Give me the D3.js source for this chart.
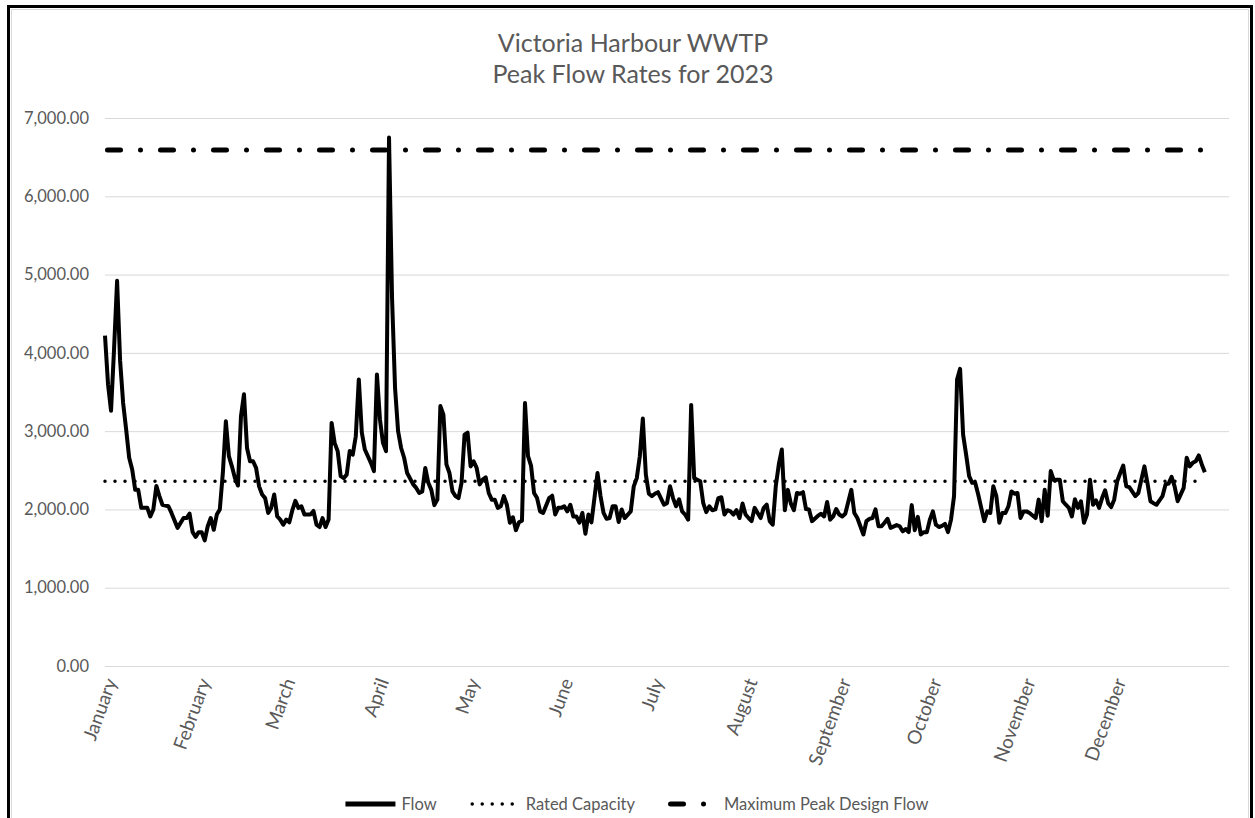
<!DOCTYPE html>
<html>
<head>
<meta charset="utf-8">
<title>Victoria Harbour WWTP - Peak Flow Rates for 2023</title>
<script src="https://cdn.jsdelivr.net/npm/d3@7"></script>
<style>
	body { margin: 0; background: #ffffff; }
	text { font-family: Lato, "Open Sans", sans-serif; fill: #595959; }
</style>
</head>
<body>
<div id="graph-graph"></div>
<script>
// DATA: DAY OF YEAR (0 = JANUARY 1ST) AND PEAK FLOW
var flowDay = [
	0, 1, 2, 3, 4, 5, 6, 7, 8, 9, 10, 11, 12, 14, 15, 16, 17, 18, 19, 21,
	22, 24, 26, 27, 28, 29, 30, 31, 32, 33, 34, 35, 36, 37, 38, 39, 40, 41, 42, 43,
	44, 45, 46, 47, 48, 49, 50, 51, 52, 53, 54, 55, 56, 57, 58, 59, 60, 61, 62, 63,
	64, 65, 66, 68, 69, 70, 71, 72, 73, 74, 75, 76, 77, 78, 79, 80, 81, 82, 83, 84,
	85, 86, 88, 89, 90, 91, 92, 93, 94, 95, 96, 97, 98, 99, 100, 102, 103, 104, 105, 106,
	107, 108, 109, 110, 111, 112, 113, 114, 115, 116, 117, 118, 119, 120, 121, 122, 123, 124, 125, 126,
	127, 128, 129, 130, 131, 132, 133, 134, 135, 136, 137, 138, 139, 140, 141, 142, 143, 144, 145, 147,
	148, 149, 150, 151, 152, 153, 154, 155, 156, 157, 158, 159, 160, 161, 163, 164, 165, 166, 167, 168,
	169, 170, 171, 172, 174, 175, 176, 177, 178, 179, 180, 181, 182, 183, 185, 186, 187, 188, 189, 190,
	191, 192, 193, 194, 195, 196, 197, 198, 199, 200, 201, 202, 203, 204, 205, 206, 207, 208, 209, 210,
	211, 212, 213, 214, 215, 216, 217, 218, 219, 220, 221, 222, 223, 224, 225, 226, 227, 228, 229, 230,
	231, 232, 233, 234, 236, 237, 238, 239, 240, 241, 242, 243, 244, 245, 247, 248, 249, 251, 252, 253,
	254, 255, 256, 257, 258, 259, 260, 262, 263, 264, 265, 266, 267, 268, 269, 270, 271, 272, 273, 274,
	275, 276, 277, 278, 279, 280, 281, 282, 283, 284, 285, 286, 287, 288, 289, 290, 291, 292, 293, 294,
	295, 296, 297, 298, 299, 300, 301, 302, 303, 304, 305, 306, 308, 309, 310, 311, 312, 313, 314, 315,
	316, 317, 318, 319, 320, 321, 322, 323, 324, 325, 326, 327, 328, 329, 330, 331, 332, 333, 334, 335,
	336, 337, 338, 339, 341, 342, 343, 344, 345, 346, 347, 348, 349, 350, 351, 352, 353, 354, 355, 356,
	357, 358, 359, 360, 361, 362, 363, 364
];
var flowValue = [
	4220, 3600, 3260, 4050, 4920, 3900, 3360, 3020, 2660, 2510, 2250, 2250, 2020, 2020, 1910, 2000, 2300, 2170, 2060, 2040,
	1955, 1765, 1890, 1890, 1945, 1710, 1650, 1710, 1710, 1605, 1785, 1890, 1740, 1935, 2000, 2465, 3125, 2680, 2550, 2400,
	2305, 3190, 3470, 2785, 2615, 2615, 2530, 2295, 2190, 2145, 1955, 2020, 2190, 1910, 1870, 1805, 1870, 1835, 1990, 2110,
	2020, 2040, 1935, 1935, 1980, 1805, 1775, 1890, 1775, 1870, 3105, 2850, 2745, 2425, 2400, 2445, 2745, 2700, 2935, 3660,
	2980, 2765, 2595, 2490, 3725, 3150, 2850, 2745, 6750, 4700, 3550, 3000, 2785, 2660, 2465, 2320, 2275, 2210, 2230, 2530,
	2340, 2250, 2055, 2125, 3320, 3210, 2575, 2465, 2230, 2170, 2145, 2340, 2955, 2980, 2550, 2615, 2530, 2320, 2380, 2410,
	2210, 2125, 2125, 2020, 2040, 2170, 2060, 1830, 1900, 1735, 1835, 1855, 3360, 2680, 2560, 2210, 2145, 1975, 1955, 2145,
	2175, 1935, 2020, 2020, 2040, 1975, 2060, 1910, 1910, 1830, 1955, 1690, 1935, 1835, 2465, 2170, 1955, 1880, 1890, 2040,
	2040, 1840, 2000, 1890, 1975, 2295, 2400, 2680, 3160, 2445, 2200, 2170, 2200, 2220, 2060, 2080, 2295, 2145, 2040, 2130,
	1975, 1935, 1870, 3335, 2400, 2380, 2360, 2080, 1965, 2040, 1990, 2000, 2145, 2155, 1935, 1990, 1975, 1935, 1990, 1890,
	2075, 1935, 1890, 1850, 2020, 1955, 1890, 2020, 2060, 1850, 1805, 2295, 2575, 2765, 1990, 2250, 2075, 1990, 2210, 2200,
	2220, 2005, 2000, 1850, 1920, 1945, 1910, 2095, 1870, 1910, 2005, 1935, 1910, 1945, 2250, 1955, 1890, 1680, 1850, 1880,
	1890, 2000, 1785, 1785, 1830, 1880, 1765, 1800, 1785, 1720, 1750, 1710, 2055, 1735, 1905, 1680, 1710, 1710, 1870, 1975,
	1805, 1775, 1790, 1815, 1710, 1870, 2170, 3660, 3795, 2955, 2700, 2425, 2340, 2340, 2190, 2020, 1850, 1975, 1955, 2295,
	2170, 1830, 1955, 1955, 2040, 2230, 2200, 2210, 1890, 1975, 1975, 1955, 1890, 2125, 1850, 2250, 1920, 2490, 2375, 2380,
	2380, 2105, 2060, 2020, 1910, 2130, 2020, 2105, 1830, 1935, 2380, 2060, 2115, 2020, 2145, 2245, 2080, 2030, 2125, 2360,
	2465, 2560, 2295, 2285, 2170, 2210, 2380, 2550, 2340, 2105, 2080, 2060, 2115, 2170, 2320, 2330, 2415, 2295, 2105, 2190,
	2275, 2660, 2550, 2595, 2615, 2690, 2575, 2475
];
var ratedCapacity = 2360;
var maxPeakDesignFlow = 6590;
var yTicks = [0, 1000, 2000, 3000, 4000, 5000, 6000, 7000];
var titleLines = ["Victoria Harbour WWTP", "Peak Flow Rates for 2023"];
var legendNames = ["Flow", "Rated Capacity", "Maximum Peak Design Flow"];

var startDate = new Date(2023, 0, 1);
var data = flowDay.map(function (d, i) {
	return { date: d3.timeDay.offset(startDate, d), flow: flowValue[i] };
});
var firstDate = data[0].date;
var lastDate = data[data.length - 1].date;

// SET DIMENSIONS AND MARGINS OF GRAPH
var W = 1255, H = 818;
var margin = { top: 118, right: 26, bottom: 152, left: 105 },
	width = W - margin.left - margin.right,
	height = H - margin.top - margin.bottom;

var root = d3
	.select("#graph-graph")
	.append("svg")
	.attr("width", W)
	.attr("height", H);

root.append("rect").attr("width", W).attr("height", H).attr("fill", "#ffffff");

// CHART FRAME
root
	.append("rect")
	.attr("x", 8.5)
	.attr("y", 6.5)
	.attr("width", 1243)
	.attr("height", 840)
	.attr("fill", "none")
	.attr("stroke", "#000000")
	.attr("stroke-width", 3);
root
	.append("rect")
	.attr("x", 11.5)
	.attr("y", 9.5)
	.attr("width", 1237)
	.attr("height", 834)
	.attr("fill", "none")
	.attr("stroke", "#d9d9d9")
	.attr("stroke-width", 1);

// TITLE
root
	.append("g")
	.selectAll("text")
	.data(titleLines)
	.join("text")
	.attr("x", 633)
	.attr("y", function (d, i) {
		return 52 + i * 31;
	})
	.attr("text-anchor", "middle")
	.style("font-size", "25px")
	.text(function (d) {
		return d;
	});

var svg = root
	.append("g")
	.attr("transform", "translate(" + margin.left + "," + margin.top + ")");

// SCALES
var x = d3
	.scaleTime()
	.domain([startDate, new Date(2024, 0, 8)])
	.range([0, width]);
var y = d3.scaleLinear().domain([0, 7000]).range([height, 0]);

// GRIDLINES + Y-AXIS
var yAxis = svg
	.append("g")
	.call(
		d3
			.axisLeft(y)
			.tickValues(yTicks)
			.tickSize(-width)
			.tickPadding(16)
			.tickFormat(d3.format(",.2f"))
	);
yAxis.select(".domain").remove();
yAxis.selectAll(".tick line").attr("stroke", "#d9d9d9").attr("stroke-width", 1);
yAxis
	.selectAll(".tick text")
	.style("font-size", "16.5px")
	.style("font-family", "Lato, 'Open Sans', sans-serif")
	.attr("fill", "#595959");

// X-AXIS (MONTH LABELS, ROTATED)
var months = d3.timeMonth.range(startDate, new Date(2024, 0, 1));
svg
	.append("g")
	.selectAll("text")
	.data(months)
	.join("text")
	.attr("transform", function (d) {
		return "translate(" + (x(d) + 6) + "," + (height + 13) + ") rotate(-70)";
	})
	.attr("text-anchor", "end")
	.attr("dy", "0.35em")
	.style("font-size", "19px")
	.text(d3.timeFormat("%B"));

// ADD LINE (RATED CAPACITY)
svg
	.append("path")
	.datum([firstDate, lastDate])
	.attr("fill", "none")
	.attr("stroke", "#000000")
	.attr("stroke-width", 3.5)
	.attr("stroke-linecap", "round")
	.attr("stroke-dasharray", "0 10")
	.attr(
		"d",
		d3
			.line()
			.x(function (d) {
				return x(d);
			})
			.y(function () {
				return y(ratedCapacity);
			})
	);

// ADD LINE (MAXIMUM PEAK DESIGN FLOW)
svg
	.append("path")
	.datum([firstDate, lastDate])
	.attr("fill", "none")
	.attr("stroke", "#000000")
	.attr("stroke-width", 5)
	.attr("stroke-linecap", "round")
	.attr("stroke-dasharray", "13 20 0 20")
	.attr("stroke-dashoffset", -2.5)
	.attr(
		"d",
		d3
			.line()
			.x(function (d) {
				return x(d);
			})
			.y(function () {
				return y(maxPeakDesignFlow);
			})
	);

// ADD LINE (FLOW)
svg
	.append("path")
	.datum(data)
	.attr("fill", "none")
	.attr("stroke", "#000000")
	.attr("stroke-width", 4)
	.attr("stroke-linejoin", "round")
	.attr(
		"d",
		d3
			.line()
			.x(function (d) {
				return x(d.date);
			})
			.y(function (d) {
				return y(d.flow);
			})
	);

// LEGEND
var legendStyles = [
	{ width: 5, dash: null, cap: "butt" },
	{ width: 3.5, dash: "0 10", cap: "round" },
	{ width: 5, dash: "13 20 0 20", cap: "round" }
];
var legendY = 804;
var legend = root.append("g");
var cursor = 0;
var items = legend
	.selectAll("g")
	.data(legendNames)
	.join("g");
items.each(function (name, i) {
	var g = d3.select(this);
	var s = legendStyles[i];
	g.append("line")
		.attr("x1", i === 0 ? 0 : 2.5)
		.attr("x2", 50)
		.attr("y1", 0)
		.attr("y2", 0)
		.attr("stroke", "#000000")
		.attr("stroke-width", s.width)
		.attr("stroke-linecap", s.cap)
		.attr("stroke-dasharray", s.dash);
	var t = g
		.append("text")
		.attr("x", 56)
		.attr("dy", "0.35em")
		.style("font-size", "16.5px")
		.text(name);
	g.attr("transform", "translate(" + cursor + ",0)");
	cursor += 56 + t.node().getComputedTextLength() + 33;
});
var legendWidth = cursor - 33;
legend.attr("transform", "translate(" + (637 - legendWidth / 2) + "," + legendY + ")");
</script>
</body>
</html>
